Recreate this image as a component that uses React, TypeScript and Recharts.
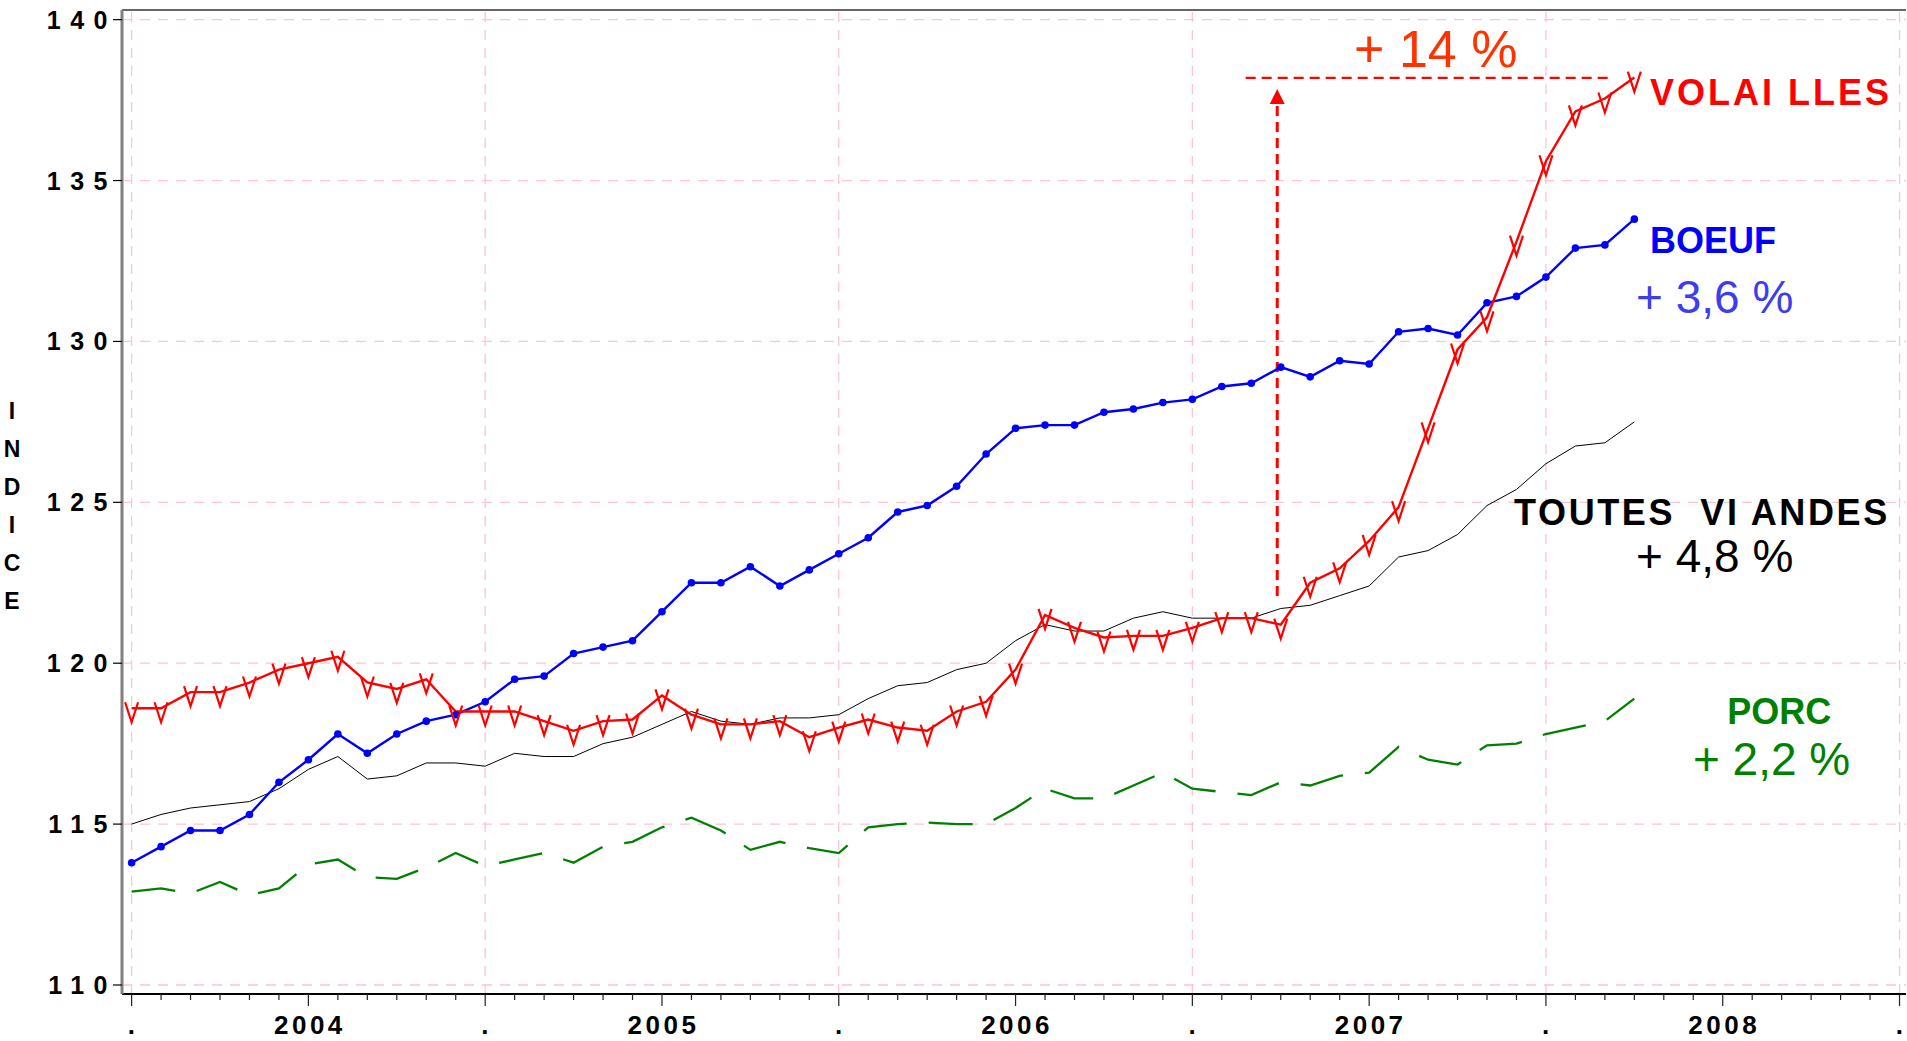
import { Line, LineChart, ReferenceDot, ReferenceLine, XAxis, YAxis } from "recharts";

const FONT = '"Liberation Sans", Arial, Helvetica, sans-serif';

const years = ["2004", "2005", "2006", "2007", "2008"];
const yTicks = [110, 115, 120, 125, 130, 135, 140];
const indiceLetters = ["I", "N", "D", "I", "C", "E"];

// monthly index values, January 2004 -> April 2008
const volailles = [
  118.6, 118.6, 119.1, 119.1, 119.4, 119.8, 120.0, 120.2, 119.4, 119.2, 119.5, 118.5,
  118.5, 118.5, 118.2, 117.9, 118.2, 118.25, 119.0, 118.4, 118.1, 118.1, 118.2, 117.7,
  118.0, 118.25, 118.0, 117.9, 118.5, 118.8, 119.8, 121.5, 121.1, 120.8, 120.85, 120.85,
  121.1, 121.4, 121.4, 121.2, 122.5, 122.95, 123.8, 124.85, 127.3, 129.75, 130.75, 133.1,
  135.6, 137.15, 137.55, 138.2,
];
const boeuf = [
  113.8, 114.3, 114.8, 114.8, 115.3, 116.3, 117.0, 117.8, 117.2, 117.8, 118.2, 118.4,
  118.8, 119.5, 119.6, 120.3, 120.5, 120.7, 121.6, 122.5, 122.5, 123.0, 122.4, 122.9,
  123.4, 123.9, 124.7, 124.9, 125.5, 126.5, 127.3, 127.4, 127.4, 127.8, 127.9, 128.1,
  128.2, 128.6, 128.7, 129.2, 128.9, 129.4, 129.3, 130.3, 130.4, 130.2, 131.2, 131.4,
  132.0, 132.9, 133.0, 133.8,
];
const toutesViandes = [
  115.0, 115.3, 115.5, 115.6, 115.7, 116.1, 116.7, 117.1, 116.4, 116.5, 116.9, 116.9,
  116.8, 117.2, 117.1, 117.1, 117.5, 117.7, 118.1, 118.5, 118.2, 118.1, 118.3, 118.3,
  118.4, 118.9, 119.3, 119.4, 119.8, 120.0, 120.7, 121.2, 121.0, 121.0, 121.4, 121.6,
  121.4, 121.4, 121.4, 121.7, 121.8, 122.1, 122.4, 123.3, 123.5, 124.0, 124.9, 125.4,
  126.2, 126.75, 126.85, 127.5,
];
const porc = [
  112.9, 113.0, 112.85, 113.2, 112.8, 113.0, 113.75, 113.9, 113.35, 113.3, 113.65, 114.1,
  113.7, 113.9, 114.1, 113.8, 114.3, 114.45, 114.9, 115.2, 114.8, 114.2, 114.45, 114.25,
  114.1, 114.9, 115.0, 115.05, 115.0, 115.0, 115.5, 116.1, 115.8, 115.8, 116.2, 116.6,
  116.1, 116.0, 115.9, 116.3, 116.2, 116.5, 116.6, 117.4, 117.0, 116.85, 117.45, 117.5,
  117.8, 118.0, 118.2, 118.9,
];

const data = boeuf.map((b, i) => ({
  i,
  boeuf: b,
  volailles: volailles[i],
  toutes: toutesViandes[i],
  porc: porc[i],
}));

const monthTicks = Array.from({ length: 61 }, (_, k) => k);
const yearEdges = [0, 12, 24, 36, 48, 60];

const X_MIN = -0.326;
const X_MAX = 60.22;
const Y_MIN = 109.72;
const Y_MAX = 140.3;

const GRID = "#ffc4cf";

function MonthTick({ x, y, payload }: any) {
  const k = payload.value as number;
  const m = k % 12;
  const major = m === 0 || m === 6;
  const label = m === 6 ? years[Math.floor(k / 12)] : m === 0 ? "." : null;
  return (
    <g>
      <line x1={x} y1={y} x2={x} y2={y + (major ? 12 : 6)} stroke="#222" strokeWidth={1.2} />
      {label && (
        <text
          x={x + 1.5}
          y={y + 40}
          textAnchor="middle"
          fontFamily={FONT}
          fontWeight={700}
          fontSize={26}
          letterSpacing={3.5}
          fill="#000"
        >
          {label}
        </text>
      )}
    </g>
  );
}

function IndexTick({ x, y, payload }: any) {
  return (
    <g>
      <line x1={x - 9} y1={y} x2={x} y2={y} stroke="#000" strokeWidth={1.2} />
      <text
        x={x - 5}
        y={y + 9}
        textAnchor="end"
        fontFamily={FONT}
        fontWeight={700}
        fontSize={25}
        letterSpacing={9.5}
        fill="#000"
      >
        {payload.value}
      </text>
    </g>
  );
}

function IndiceLabel({ viewBox }: any) {
  const mid = viewBox.y + viewBox.height / 2 + 4;
  return (
    <g>
      {indiceLetters.map((c, k) => (
        <text
          key={k}
          x={12}
          y={mid + (k - 2.5) * 38 + 8}
          textAnchor="middle"
          fontFamily={FONT}
          fontWeight={700}
          fontSize={23}
          fill="#000"
        >
          {c}
        </text>
      ))}
    </g>
  );
}

function VMark(p: any) {
  const { cx, cy } = p;
  if (cx == null || cy == null) return <g key={p.index} />;
  return (
    <path
      key={p.index}
      d={`M${cx - 6.5},${cy - 6}L${cx},${cy + 14}L${cx + 6.5},${cy - 6}`}
      fill="none"
      stroke="#ff0000"
      strokeWidth={2.2}
    />
  );
}

function ArrowHead({ cx, cy }: any) {
  return <path d={`M${cx},${cy - 7.5}L${cx + 7.5},${cy + 7.5}L${cx - 7.5},${cy + 7.5}Z`} fill="#ff0000" />;
}

const note =
  (text: string, color: string, size: number, bold: boolean, spacing = 0) =>
  ({ cx, cy }: any) => (
    <text
      x={cx}
      y={cy}
      fontFamily={FONT}
      fontSize={size}
      fontWeight={bold ? 700 : 400}
      letterSpacing={spacing}
      fill={color}
      style={{ whiteSpace: "pre" }}
    >
      {text}
    </text>
  );

export default function App() {
  return (
    <div style={{ position: "absolute", left: 0, top: 0, width: 1907, height: 1041, background: "#fff" }}>
      <LineChart width={1907} height={1041} data={data} margin={{ top: 10, right: 1, bottom: 0, left: 0 }}>
        <XAxis
          dataKey="i"
          type="number"
          domain={[X_MIN, X_MAX]}
          ticks={monthTicks}
          interval={0}
          tick={MonthTick}
          tickLine={false}
          tickSize={0}
          tickMargin={0}
          height={47}
          axisLine={{ stroke: "#000", strokeWidth: 2 }}
          allowDataOverflow
        />
        <YAxis
          type="number"
          domain={[Y_MIN, Y_MAX]}
          ticks={yTicks}
          interval={0}
          tick={IndexTick}
          tickLine={false}
          tickSize={0}
          tickMargin={0}
          width={122}
          axisLine={{ stroke: "#808080", strokeWidth: 3 }}
          allowDataOverflow
          label={{ content: IndiceLabel }}
        />

        {yTicks.map((v) => (
          <ReferenceLine key={`h${v}`} y={v} stroke={GRID} strokeWidth={1.3} strokeDasharray="10 8" />
        ))}
        {yearEdges.map((v) => (
          <ReferenceLine key={`v${v}`} x={v} stroke={GRID} strokeWidth={1.3} strokeDasharray="10 8" />
        ))}
        <ReferenceLine y={Y_MAX} stroke="#333" strokeWidth={1.5} />

        <ReferenceLine
          segment={[
            { x: 37.81, y: 138.19 },
            { x: 50.21, y: 138.19 },
          ]}
          stroke="#ff0000"
          strokeWidth={2.4}
          strokeDasharray="10 6"
        />
        <ReferenceLine
          segment={[
            { x: 38.88, y: 122.09 },
            { x: 38.88, y: 137.38 },
          ]}
          stroke="#ff0000"
          strokeWidth={3}
          strokeDasharray="10 6"
        />
        <ReferenceDot x={38.88} y={137.61} r={1} shape={ArrowHead} />

        <Line
          dataKey="porc"
          stroke="#008000"
          strokeWidth={2.3}
          strokeDasharray="44 22"
          dot={false}
          isAnimationActive={false}
        />
        <Line dataKey="toutes" stroke="#000" strokeWidth={1} dot={false} isAnimationActive={false} />
        <Line
          dataKey="boeuf"
          stroke="#0000ff"
          strokeWidth={2.4}
          dot={{ r: 3.8, fill: "#0000ff", stroke: "#0000ff", strokeWidth: 0 }}
          isAnimationActive={false}
        />
        <Line dataKey="volailles" stroke="#ff0000" strokeWidth={2.4} dot={VMark} isAnimationActive={false} />

        <ReferenceDot x={41.49} y={138.53} r={1} shape={note("+ 14 %", "#ff3300", 52, false)} />
        <ReferenceDot x={51.53} y={137.35} r={1} shape={note("VOLAI LLES", "#ff0000", 36, true, 3)} />
        <ReferenceDot x={51.53} y={132.75} r={1} shape={note("BOEUF", "#0000ff", 36, true)} />
        <ReferenceDot x={51.06} y={130.88} r={1} shape={note("+ 3,6 %", "#3c3cf0", 46, false)} />
        <ReferenceDot x={46.92} y={124.29} r={1} shape={note("TOUTES  VI ANDES", "#000", 36, true, 2.6)} />
        <ReferenceDot x={51.06} y={122.83} r={1} shape={note("+ 4,8 %", "#000", 46, false)} />
        <ReferenceDot x={54.15} y={118.11} r={1} shape={note("PORC", "#008000", 36, true)} />
        <ReferenceDot x={52.99} y={116.53} r={1} shape={note("+ 2,2 %", "#008000", 46, false)} />
      </LineChart>
    </div>
  );
}
